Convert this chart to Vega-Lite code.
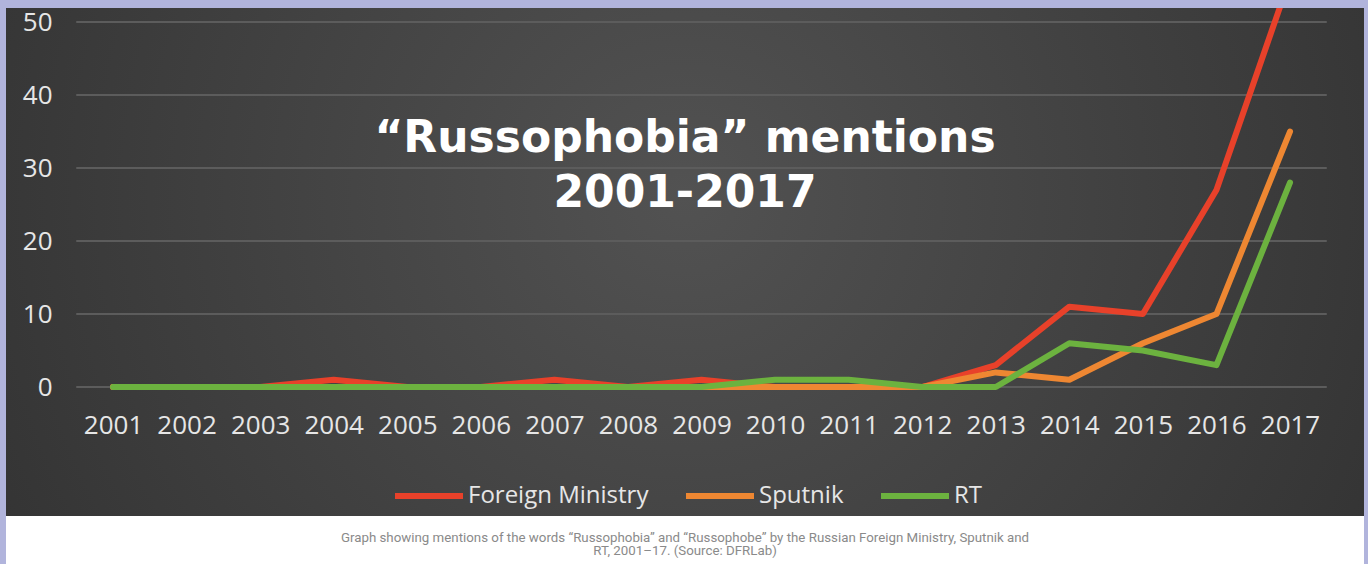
{
  "$schema": "https://vega.github.io/schema/vega-lite/v6.json",
  "background": "#b1b4dc",
  "padding": {"left": 6, "top": 8, "right": 4, "bottom": 0},
  "spacing": 0,
  "config": {"view": {"stroke": null}, "concat": {"spacing": 0}},
  "vconcat": [
    {
      "width": 1358,
      "height": 508,
      "title": {
        "text": ["“Russophobia” mentions", "2001-2017"],
        "orient": "top",
        "anchor": "middle",
        "frame": "group",
        "offset": -208,
        "baseline": "top",
        "font": "DejaVu Sans",
        "fontWeight": "bold",
        "fontSize": 44,
        "lineHeight": 55,
        "color": "#ffffff"
      },
      "layer": [
        {
          "data": {"values": [{}]},
          "mark": {
            "type": "rect",
            "fill": {
              "gradient": "radial",
              "x1": 0.5, "y1": 0.45, "r1": 0,
              "x2": 0.5, "y2": 0.45, "r2": 0.75,
              "stops": [
                {"offset": 0, "color": "#525252"},
                {"offset": 1, "color": "#2a2a2a"}
              ]
            }
          }
        },
        {
          "data": {"values": [{"g": 0}, {"g": 10}, {"g": 20}, {"g": 30}, {"g": 40}, {"g": 50}]},
          "mark": {"type": "rule", "stroke": "#5c5c5c", "strokeWidth": 2},
          "encoding": {
            "y": {"field": "g", "type": "quantitative", "scale": {"domain": [-17.67, 51.92], "nice": false, "zero": false}},
            "x": {"datum": 2000.5, "type": "quantitative", "scale": {"domain": [1999.545, 2018.006], "nice": false, "zero": false}},
            "x2": {"datum": 2017.5}
          }
        },
        {
          "data": {
            "values": [
              {"year": 2001, "series": "Foreign Ministry", "mentions": 0},
              {"year": 2002, "series": "Foreign Ministry", "mentions": 0},
              {"year": 2003, "series": "Foreign Ministry", "mentions": 0},
              {"year": 2004, "series": "Foreign Ministry", "mentions": 1},
              {"year": 2005, "series": "Foreign Ministry", "mentions": 0},
              {"year": 2006, "series": "Foreign Ministry", "mentions": 0},
              {"year": 2007, "series": "Foreign Ministry", "mentions": 1},
              {"year": 2008, "series": "Foreign Ministry", "mentions": 0},
              {"year": 2009, "series": "Foreign Ministry", "mentions": 1},
              {"year": 2010, "series": "Foreign Ministry", "mentions": 0},
              {"year": 2011, "series": "Foreign Ministry", "mentions": 0},
              {"year": 2012, "series": "Foreign Ministry", "mentions": 0},
              {"year": 2013, "series": "Foreign Ministry", "mentions": 3},
              {"year": 2014, "series": "Foreign Ministry", "mentions": 11},
              {"year": 2015, "series": "Foreign Ministry", "mentions": 10},
              {"year": 2016, "series": "Foreign Ministry", "mentions": 27},
              {"year": 2017, "series": "Foreign Ministry", "mentions": 56},
              {"year": 2001, "series": "Sputnik", "mentions": 0},
              {"year": 2002, "series": "Sputnik", "mentions": 0},
              {"year": 2003, "series": "Sputnik", "mentions": 0},
              {"year": 2004, "series": "Sputnik", "mentions": 0},
              {"year": 2005, "series": "Sputnik", "mentions": 0},
              {"year": 2006, "series": "Sputnik", "mentions": 0},
              {"year": 2007, "series": "Sputnik", "mentions": 0},
              {"year": 2008, "series": "Sputnik", "mentions": 0},
              {"year": 2009, "series": "Sputnik", "mentions": 0},
              {"year": 2010, "series": "Sputnik", "mentions": 0},
              {"year": 2011, "series": "Sputnik", "mentions": 0},
              {"year": 2012, "series": "Sputnik", "mentions": 0},
              {"year": 2013, "series": "Sputnik", "mentions": 2},
              {"year": 2014, "series": "Sputnik", "mentions": 1},
              {"year": 2015, "series": "Sputnik", "mentions": 6},
              {"year": 2016, "series": "Sputnik", "mentions": 10},
              {"year": 2017, "series": "Sputnik", "mentions": 35},
              {"year": 2001, "series": "RT", "mentions": 0},
              {"year": 2002, "series": "RT", "mentions": 0},
              {"year": 2003, "series": "RT", "mentions": 0},
              {"year": 2004, "series": "RT", "mentions": 0},
              {"year": 2005, "series": "RT", "mentions": 0},
              {"year": 2006, "series": "RT", "mentions": 0},
              {"year": 2007, "series": "RT", "mentions": 0},
              {"year": 2008, "series": "RT", "mentions": 0},
              {"year": 2009, "series": "RT", "mentions": 0},
              {"year": 2010, "series": "RT", "mentions": 1},
              {"year": 2011, "series": "RT", "mentions": 1},
              {"year": 2012, "series": "RT", "mentions": 0},
              {"year": 2013, "series": "RT", "mentions": 0},
              {"year": 2014, "series": "RT", "mentions": 6},
              {"year": 2015, "series": "RT", "mentions": 5},
              {"year": 2016, "series": "RT", "mentions": 3},
              {"year": 2017, "series": "RT", "mentions": 28}
            ]
          },
          "mark": {"type": "line", "strokeWidth": 6, "strokeCap": "round", "strokeJoin": "round", "clip": true},
          "encoding": {
            "x": {
              "field": "year", "type": "quantitative",
              "axis": {
                "values": [2001, 2002, 2003, 2004, 2005, 2006, 2007, 2008, 2009, 2010, 2011, 2012, 2013, 2014, 2015, 2016, 2017],
                "format": "d", "title": null, "domain": false, "ticks": false, "grid": false, "zindex": 1,
                "offset": -91, "labelPadding": 0, "labelBaseline": "middle",
                "labelFont": "Open Sans", "labelFontSize": 26, "labelColor": "#e6e6e6", "labelFlush": false, "labelOverlap": false
              }
            },
            "y": {
              "field": "mentions", "type": "quantitative",
              "axis": {
                "values": [0, 10, 20, 30, 40, 50],
                "title": null, "domain": false, "ticks": false, "grid": false, "zindex": 1,
                "offset": -46, "labelPadding": 0, "labelAlign": "right", "labelBaseline": "middle",
                "labelFont": "Open Sans", "labelFontSize": 26, "labelColor": "#e6e6e6", "labelFlush": false
              }
            },
            "color": {
              "field": "series", "type": "nominal",
              "scale": {"domain": ["Foreign Ministry", "Sputnik", "RT"], "range": ["#e8412a", "#ee8732", "#6cb23f"]},
              "legend": {
                "title": null, "orient": "none", "legendX": 386, "legendY": 451, "direction": "horizontal",
                "symbolType": "stroke", "symbolStrokeWidth": 6, "symbolSize": 4624,
                "labelFont": "Open Sans", "labelFontSize": 24, "labelColor": "#e6e6e6", "labelOffset": 2, "labelLimit": 0,
                "columnPadding": 25
              }
            }
          }
        }
      ]
    },
    {
      "width": 1358,
      "height": 48,
      "view": {"fill": "#ffffff", "stroke": null},
      "data": {"values": [{"caption": ["Graph showing mentions of the words “Russophobia” and “Russophobe” by the Russian Foreign Ministry, Sputnik and", "RT, 2001–17. (Source: DFRLab)"]}]},
      "mark": {"type": "text", "font": "Roboto", "fontSize": 13.3, "lineHeight": 13, "color": "#8a8a8a", "align": "center", "baseline": "middle", "dy": -2},
      "encoding": {"text": {"field": "caption"}}
    }
  ]
}
